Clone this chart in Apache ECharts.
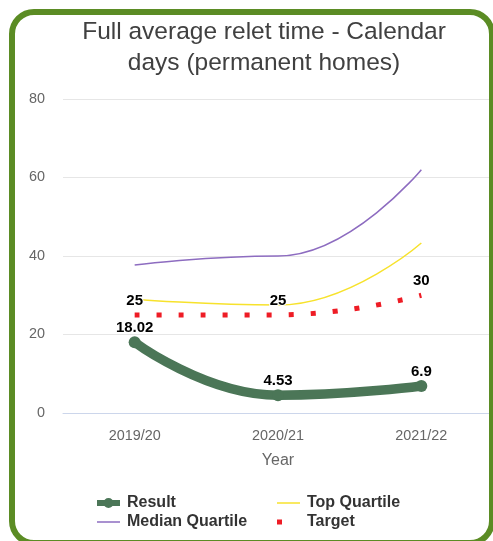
<!DOCTYPE html>
<html>
<head>
<meta charset="utf-8">
<style>
  html, body { margin: 0; padding: 0; background: #ffffff; }
  #chart { width: 493px; height: 541px; }
</style>
<script src="https://cdn.jsdelivr.net/npm/echarts@6/dist/echarts.min.js"></script>
</head>
<body>
<div id="chart"></div>
<script>
// Categories and series values
const years = ['2019/20', '2020/21', '2021/22'];
const resultValues = [18.02, 4.53, 6.9];
const topQuartileValues = [29.0, 27.5, 43.3];
const medianQuartileValues = [37.7, 40.0, 62.0];
const targetValues = [25, 25, 30];
const yTicks = [0, 20, 40, 60, 80];

const chart = echarts.init(document.getElementById('chart'), null, { renderer: 'canvas' });
const FONT = '"Liberation Sans", Arial, sans-serif';

function dataLabel(distance) {
  return {
    show: true,
    position: 'top',
    distance: distance,
    color: '#000000',
    fontFamily: FONT,
    fontSize: 15,
    fontWeight: 'bold',
    textBorderColor: '#ffffff',
    textBorderWidth: 2
  };
}

const legendText = {
  color: '#333333',
  fontFamily: FONT,
  fontSize: 16,
  fontWeight: 'bold',
  padding: [0, 0, 0, 2]
};

// Legend glyphs: plain thin line, thick line with a dot, and a small square
const ICON_THIN = 'path://M0,0h23v1.5h-23z';
const ICON_RESULT = 'path://M0,2h23v6h-23z M16.5,5 A5,5 0 1,1 6.5,5 A5,5 0 1,1 16.5,5z';
const ICON_SQUARE = 'path://M0,0h0.01v0.01h-0.01z M22.99,9.99h0.01v0.01h-0.01z M0,2.5h5v5h-5z';

chart.setOption({
  animation: false,
  backgroundColor: '#ffffff',
  title: {
    text: 'Full average relet time - Calendar\ndays (permanent homes)',
    left: 259,
    textAlign: 'center',
    top: 12,
    textStyle: {
      color: '#404040',
      fontFamily: FONT,
      fontSize: 24.5,
      fontWeight: 'normal',
      lineHeight: 31
    }
  },
  graphic: [{
    type: 'rect',
    shape: { x: 12, y: 12, width: 480, height: 531, r: 22 },
    style: { fill: 'none', stroke: '#5b8c24', lineWidth: 6 },
    z: 100,
    silent: true
  }],
  grid: { left: 63, top: 99, width: 437, height: 314 },
  xAxis: {
    type: 'category',
    data: years,
    boundaryGap: true,
    name: 'Year',
    nameLocation: 'middle',
    nameGap: 40,
    nameTextStyle: { color: '#666666', fontFamily: FONT, fontSize: 16 },
    axisLine: { lineStyle: { color: '#ccd6eb', width: 1 } },
    axisTick: { show: false },
    axisLabel: { color: '#666666', fontFamily: FONT, fontSize: 14.4, margin: 16 }
  },
  yAxis: {
    type: 'value',
    min: yTicks[0],
    max: yTicks[yTicks.length - 1],
    interval: 20,
    axisLine: { show: false },
    axisTick: { show: false },
    axisLabel: { color: '#666666', fontFamily: FONT, fontSize: 14.4, margin: 18 },
    splitLine: { lineStyle: { color: '#e6e6e6', width: 1 } }
  },
  legend: [
    {
      left: 97, top: 495, orient: 'vertical', itemGap: 3, padding: 0,
      itemWidth: 23, itemHeight: 10,
      textStyle: legendText,
      data: [
        { name: 'Result', icon: ICON_RESULT },
        { name: 'Median Quartile', icon: ICON_THIN }
      ]
    },
    {
      left: 277, top: 495, orient: 'vertical', itemGap: 3, padding: 0,
      itemWidth: 23, itemHeight: 10,
      textStyle: legendText,
      data: [
        { name: 'Top Quartile', icon: ICON_THIN },
        { name: 'Target', icon: ICON_SQUARE }
      ]
    }
  ],
  series: [
    {
      name: 'Median Quartile',
      type: 'line',
      data: medianQuartileValues,
      smooth: 0.5,
      smoothMonotone: 'x',
      symbol: 'none',
      lineStyle: { color: '#8d6cc0', width: 1.5 },
      itemStyle: { color: '#8d6cc0' },
      z: 2
    },
    {
      name: 'Top Quartile',
      type: 'line',
      data: topQuartileValues,
      smooth: 0.5,
      smoothMonotone: 'x',
      symbol: 'none',
      lineStyle: { color: '#f7e22c', width: 1.5 },
      itemStyle: { color: '#f7e22c' },
      z: 2
    },
    {
      name: 'Target',
      type: 'line',
      data: targetValues,
      smooth: 0.5,
      smoothMonotone: 'x',
      symbol: 'circle',
      symbolSize: 0.01,
      showSymbol: true,
      lineStyle: { color: '#ee1c25', width: 5, type: [5, 17], cap: 'butt' },
      itemStyle: { color: '#ee1c25' },
      label: dataLabel(7),
      z: 3
    },
    {
      name: 'Result',
      type: 'line',
      data: resultValues,
      smooth: 0.5,
      smoothMonotone: 'x',
      symbol: 'circle',
      symbolSize: 12,
      lineStyle: { color: '#4b7657', width: 9.5, cap: 'round' },
      itemStyle: { color: '#4b7657' },
      label: dataLabel(1),
      z: 4
    }
  ]
});
</script>
</body>
</html>
